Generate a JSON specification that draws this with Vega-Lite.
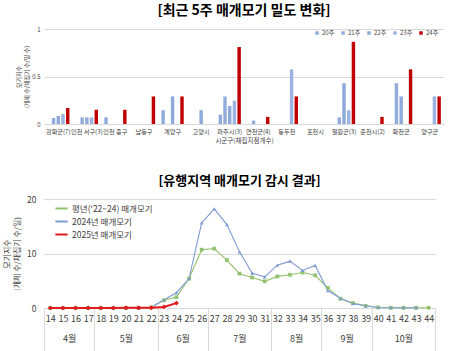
{
  "$schema": "https://vega.github.io/schema/vega-lite/v6.json",
  "padding": {"left": 3, "top": 4, "right": 4, "bottom": 0},
  "background": "white",
  "config": {
    "font": "Noto Sans CJK KR",
    "view": {"stroke": null},
    "axis": {"labelColor": "#404040", "titleColor": "#404040", "titleFontWeight": "normal", "labelFont": "Noto Sans CJK KR", "titleFont": "Noto Sans CJK KR"},
    "legend": {"labelColor": "#404040", "labelFont": "Noto Sans CJK KR"},
    "title": {"font": "Noto Sans CJK KR", "color": "#000000", "fontWeight": "bold"}
  },
  "resolve": {
    "scale": {"color": "independent", "x": "independent", "y": "independent"},
    "legend": {"color": "independent"},
    "axis": {"x": "independent", "y": "independent"}
  },
  "datasets": {
    "bars": [
      {"region": "강화군(7)", "week": "21주", "value": 0.063},
      {"region": "강화군(7)", "week": "22주", "value": 0.084},
      {"region": "강화군(7)", "week": "23주", "value": 0.105},
      {"region": "강화군(7)", "week": "24주", "value": 0.168},
      {"region": "인천 서구(3)", "week": "21주", "value": 0.07},
      {"region": "인천 서구(3)", "week": "22주", "value": 0.07},
      {"region": "인천 서구(3)", "week": "23주", "value": 0.07},
      {"region": "인천 서구(3)", "week": "24주", "value": 0.15},
      {"region": "인천 중구", "week": "20주", "value": 0.07},
      {"region": "인천 중구", "week": "24주", "value": 0.15},
      {"region": "남동구", "week": "24주", "value": 0.29},
      {"region": "계양구", "week": "20주", "value": 0.145},
      {"region": "계양구", "week": "22주", "value": 0.29},
      {"region": "계양구", "week": "24주", "value": 0.29},
      {"region": "고양시", "week": "22주", "value": 0.145},
      {"region": "파주시(3)", "week": "20주", "value": 0.098},
      {"region": "파주시(3)", "week": "21주", "value": 0.29},
      {"region": "파주시(3)", "week": "22주", "value": 0.19},
      {"region": "파주시(3)", "week": "23주", "value": 0.245},
      {"region": "파주시(3)", "week": "24주", "value": 0.81},
      {"region": "연천군(4)", "week": "21주", "value": 0.036},
      {"region": "연천군(4)", "week": "24주", "value": 0.075},
      {"region": "동두천", "week": "23주", "value": 0.575},
      {"region": "동두천", "week": "24주", "value": 0.29},
      {"region": "철원군(3)", "week": "21주", "value": 0.07},
      {"region": "철원군(3)", "week": "22주", "value": 0.43},
      {"region": "철원군(3)", "week": "23주", "value": 0.145},
      {"region": "철원군(3)", "week": "24주", "value": 0.865},
      {"region": "춘천시(2)", "week": "24주", "value": 0.075},
      {"region": "화천군", "week": "21주", "value": 0.43},
      {"region": "화천군", "week": "22주", "value": 0.29},
      {"region": "화천군", "week": "24주", "value": 0.575},
      {"region": "양구군", "week": "23주", "value": 0.29},
      {"region": "양구군", "week": "24주", "value": 0.29}
    ],
    "lines": [
      {"week": 14, "series": "평년('22~24) 매개모기", "value": 0},
      {"week": 15, "series": "평년('22~24) 매개모기", "value": 0},
      {"week": 16, "series": "평년('22~24) 매개모기", "value": 0},
      {"week": 17, "series": "평년('22~24) 매개모기", "value": 0},
      {"week": 18, "series": "평년('22~24) 매개모기", "value": 0},
      {"week": 19, "series": "평년('22~24) 매개모기", "value": 0},
      {"week": 20, "series": "평년('22~24) 매개모기", "value": 0},
      {"week": 21, "series": "평년('22~24) 매개모기", "value": 0},
      {"week": 22, "series": "평년('22~24) 매개모기", "value": 0.1},
      {"week": 23, "series": "평년('22~24) 매개모기", "value": 1.4},
      {"week": 24, "series": "평년('22~24) 매개모기", "value": 2.0},
      {"week": 25, "series": "평년('22~24) 매개모기", "value": 5.4},
      {"week": 26, "series": "평년('22~24) 매개모기", "value": 10.7},
      {"week": 27, "series": "평년('22~24) 매개모기", "value": 10.9},
      {"week": 28, "series": "평년('22~24) 매개모기", "value": 8.8},
      {"week": 29, "series": "평년('22~24) 매개모기", "value": 6.3},
      {"week": 30, "series": "평년('22~24) 매개모기", "value": 5.6},
      {"week": 31, "series": "평년('22~24) 매개모기", "value": 4.9},
      {"week": 32, "series": "평년('22~24) 매개모기", "value": 5.8},
      {"week": 33, "series": "평년('22~24) 매개모기", "value": 6.1},
      {"week": 34, "series": "평년('22~24) 매개모기", "value": 6.5},
      {"week": 35, "series": "평년('22~24) 매개모기", "value": 6.0},
      {"week": 36, "series": "평년('22~24) 매개모기", "value": 3.7},
      {"week": 37, "series": "평년('22~24) 매개모기", "value": 1.7},
      {"week": 38, "series": "평년('22~24) 매개모기", "value": 0.9},
      {"week": 39, "series": "평년('22~24) 매개모기", "value": 0.4},
      {"week": 40, "series": "평년('22~24) 매개모기", "value": 0.1},
      {"week": 41, "series": "평년('22~24) 매개모기", "value": 0.05},
      {"week": 42, "series": "평년('22~24) 매개모기", "value": 0.05},
      {"week": 43, "series": "평년('22~24) 매개모기", "value": 0.05},
      {"week": 44, "series": "평년('22~24) 매개모기", "value": 0.05},
      {"week": 14, "series": "2024년 매개모기", "value": 0},
      {"week": 15, "series": "2024년 매개모기", "value": 0},
      {"week": 16, "series": "2024년 매개모기", "value": 0},
      {"week": 17, "series": "2024년 매개모기", "value": 0},
      {"week": 18, "series": "2024년 매개모기", "value": 0},
      {"week": 19, "series": "2024년 매개모기", "value": 0},
      {"week": 20, "series": "2024년 매개모기", "value": 0},
      {"week": 21, "series": "2024년 매개모기", "value": 0},
      {"week": 22, "series": "2024년 매개모기", "value": 0.1},
      {"week": 23, "series": "2024년 매개모기", "value": 1.5},
      {"week": 24, "series": "2024년 매개모기", "value": 2.8},
      {"week": 25, "series": "2024년 매개모기", "value": 5.4},
      {"week": 26, "series": "2024년 매개모기", "value": 15.6},
      {"week": 27, "series": "2024년 매개모기", "value": 18.2},
      {"week": 28, "series": "2024년 매개모기", "value": 15.3},
      {"week": 29, "series": "2024년 매개모기", "value": 10.3},
      {"week": 30, "series": "2024년 매개모기", "value": 6.4},
      {"week": 31, "series": "2024년 매개모기", "value": 5.7},
      {"week": 32, "series": "2024년 매개모기", "value": 7.85},
      {"week": 33, "series": "2024년 매개모기", "value": 8.6},
      {"week": 34, "series": "2024년 매개모기", "value": 6.9},
      {"week": 35, "series": "2024년 매개모기", "value": 7.8},
      {"week": 36, "series": "2024년 매개모기", "value": 3.2},
      {"week": 37, "series": "2024년 매개모기", "value": 1.8},
      {"week": 38, "series": "2024년 매개모기", "value": 0.8},
      {"week": 39, "series": "2024년 매개모기", "value": 0.4},
      {"week": 40, "series": "2024년 매개모기", "value": 0.1},
      {"week": 41, "series": "2024년 매개모기", "value": 0.05},
      {"week": 42, "series": "2024년 매개모기", "value": 0.05},
      {"week": 43, "series": "2024년 매개모기", "value": 0.05},
      {"week": 14, "series": "2025년 매개모기", "value": 0.02},
      {"week": 15, "series": "2025년 매개모기", "value": 0.02},
      {"week": 16, "series": "2025년 매개모기", "value": 0.02},
      {"week": 17, "series": "2025년 매개모기", "value": 0.02},
      {"week": 18, "series": "2025년 매개모기", "value": 0.02},
      {"week": 19, "series": "2025년 매개모기", "value": 0.02},
      {"week": 20, "series": "2025년 매개모기", "value": 0.05},
      {"week": 21, "series": "2025년 매개모기", "value": 0.05},
      {"week": 22, "series": "2025년 매개모기", "value": 0.05},
      {"week": 23, "series": "2025년 매개모기", "value": 0.2},
      {"week": 24, "series": "2025년 매개모기", "value": 0.9}
    ]
  },
  "concat": [
    {
      "width": 400,
      "height": 95,
      "title": {"text": "[최근 5주 매개모기 밀도 변화]", "fontSize": 14, "offset": 8},
      "data": {"name": "bars"},
      "mark": {"type": "bar"},
      "encoding": {
        "x": {
          "field": "region", "type": "nominal",
          "sort": ["강화군(7)", "인천 서구(3)", "인천 중구", "남동구", "계양구", "고양시", "파주시(3)", "연천군(4)", "동두천", "포천시", "철원군(3)", "춘천시(2)", "화천군", "양구군"],
          "scale": {"domain": ["강화군(7)", "인천 서구(3)", "인천 중구", "남동구", "계양구", "고양시", "파주시(3)", "연천군(4)", "동두천", "포천시", "철원군(3)", "춘천시(2)", "화천군", "양구군"], "paddingInner": 0.22, "paddingOuter": 0.11},
          "axis": {"title": "시군구(채집지점개수)", "labelAngle": 0, "labelFontSize": 6.2, "titleFontSize": 6.5, "ticks": false, "domainColor": "#d9d9d9", "labelPadding": 4, "titlePadding": 3, "labelOverlap": false}
        },
        "xOffset": {"field": "week", "type": "nominal", "scale": {"domain": ["20주", "21주", "22주", "23주", "24주"], "paddingInner": 0.27}},
        "y": {
          "field": "value", "type": "quantitative",
          "scale": {"domain": [0, 1]},
          "axis": {"values": [0, 0.5, 1], "format": "~g", "labelFontSize": 6, "title": ["모기지수", "(개체 수/채집기 수/일 수)"], "titleFontSize": 6, "domain": false, "ticks": false, "gridColor": "#d9d9d9", "labelPadding": 4, "titlePadding": 2}
        },
        "color": {
          "field": "week", "type": "nominal",
          "scale": {"domain": ["20주", "21주", "22주", "23주", "24주"], "range": ["#8FAADC", "#92ACDD", "#8EA9DB", "#9AB3E0", "#C00000"]},
          "legend": {"orient": "none", "legendX": 270, "legendY": 1, "direction": "horizontal", "title": null, "symbolType": "square", "symbolSize": 12, "labelFontSize": 6, "columnPadding": 5, "symbolOffset": 0, "labelOffset": 2}
        }
      }
    },
    {
      "width": 391,
      "height": 109,
      "title": {"text": "[유행지역 매개모기 감시 결과]", "fontSize": 13, "offset": 7},
      "data": {"name": "lines"},
      "resolve": {"axis": {"x": "independent"}},
      "layer": [
        {
          "transform": [{"filter": "datum.series !== '2025년 매개모기'"}],
          "mark": {"type": "line", "strokeWidth": 1.1},
          "encoding": {
            "x": {"field": "week", "type": "quantitative", "scale": {"domain": [13.5, 44.5], "nice": false, "zero": false},
              "axis": {"orient": "bottom", "values": [14,15,16,17,18,19,20,21,22,23,24,25,26,27,28,29,30,31,32,33,34,35,36,37,38,39,40,41,42,43,44], "format": "d", "labelFontSize": 9, "ticks": false, "domainColor": "#d9d9d9", "labelPadding": 6, "grid": false, "title": null, "labelFlush": false, "labelOverlap": false}},
            "y": {"field": "value", "type": "quantitative", "scale": {"domain": [0, 20]},
              "axis": {"values": [0, 5, 10, 15, 20], "labelFontSize": 8.5, "title": ["모기지수", "(개체 수/채집기 수/일)"], "titleFontSize": 8, "domain": false, "ticks": false, "gridColor": "#d9d9d9", "labelPadding": 8, "titlePadding": 5}},
            "color": {"field": "series", "type": "nominal",
              "scale": {"domain": ["평년('22~24) 매개모기", "2024년 매개모기", "2025년 매개모기"], "range": ["#92C26F", "#7C9AD4", "#E31A1C"]},
              "legend": {"orient": "none", "legendX": 10, "legendY": 2, "title": null, "labelFontSize": 8.5, "symbolSize": 150, "rowPadding": 1, "labelOffset": 3, "symbolType": "stroke", "symbolStrokeWidth": 2}
            }
          }
        },
        {
          "transform": [{"filter": "indexof(datum.series, '평년') >= 0"}],
          "mark": {"type": "point", "filled": true, "opacity": 1, "size": 14, "shape": "square", "color": "#92C26F"},
          "encoding": {
            "x": {"field": "week", "type": "quantitative", "scale": {"domain": [13.5, 44.5], "nice": false, "zero": false}, "axis": null},
            "y": {"field": "value", "type": "quantitative"}
          }
        },
        {
          "transform": [{"filter": "datum.series === '2024년 매개모기'"}],
          "mark": {"type": "point", "filled": true, "opacity": 1, "size": 14, "shape": "triangle-up", "color": "#7C9AD4"},
          "encoding": {
            "x": {"field": "week", "type": "quantitative", "scale": {"domain": [13.5, 44.5], "nice": false, "zero": false}, "axis": null},
            "y": {"field": "value", "type": "quantitative"}
          }
        },
        {
          "transform": [{"filter": "datum.series === '2025년 매개모기'"}],
          "mark": {"type": "line", "strokeWidth": 2, "color": "#E31A1C"},
          "encoding": {
            "x": {"field": "week", "type": "quantitative", "scale": {"domain": [13.5, 44.5], "nice": false, "zero": false},
              "axis": {"orient": "bottom", "values": [13.5, 17.5, 22.5, 26.5, 31.5, 35.5, 39.5, 44.5], "labels": false, "domain": false, "ticks": true, "tickSize": 43, "tickColor": "#d9d9d9", "grid": false, "title": null}},
            "y": {"field": "value", "type": "quantitative"}
          }
        },
        {
          "transform": [{"filter": "datum.series === '2025년 매개모기'"}],
          "mark": {"type": "point", "filled": true, "opacity": 1, "size": 24, "shape": "diamond", "color": "#E31A1C"},
          "encoding": {
            "x": {"field": "week", "type": "quantitative", "scale": {"domain": [13.5, 44.5], "nice": false, "zero": false},
              "axis": {"orient": "bottom", "values": [15.5, 20, 24.5, 29, 33.5, 37.5, 42], "labelExpr": "datum.value == 15.5 ? '4월' : datum.value == 20 ? '5월' : datum.value == 24.5 ? '6월' : datum.value == 29 ? '7월' : datum.value == 33.5 ? '8월' : datum.value == 37.5 ? '9월' : '10월'", "labelFontSize": 9, "labelPadding": 26, "ticks": false, "domain": false, "grid": false, "title": null, "labelFlush": false}},
            "y": {"field": "value", "type": "quantitative"}
          }
        }
      ]
    }
  ],
  "columns": 1,
  "align": "none",
  "spacing": 31
}
